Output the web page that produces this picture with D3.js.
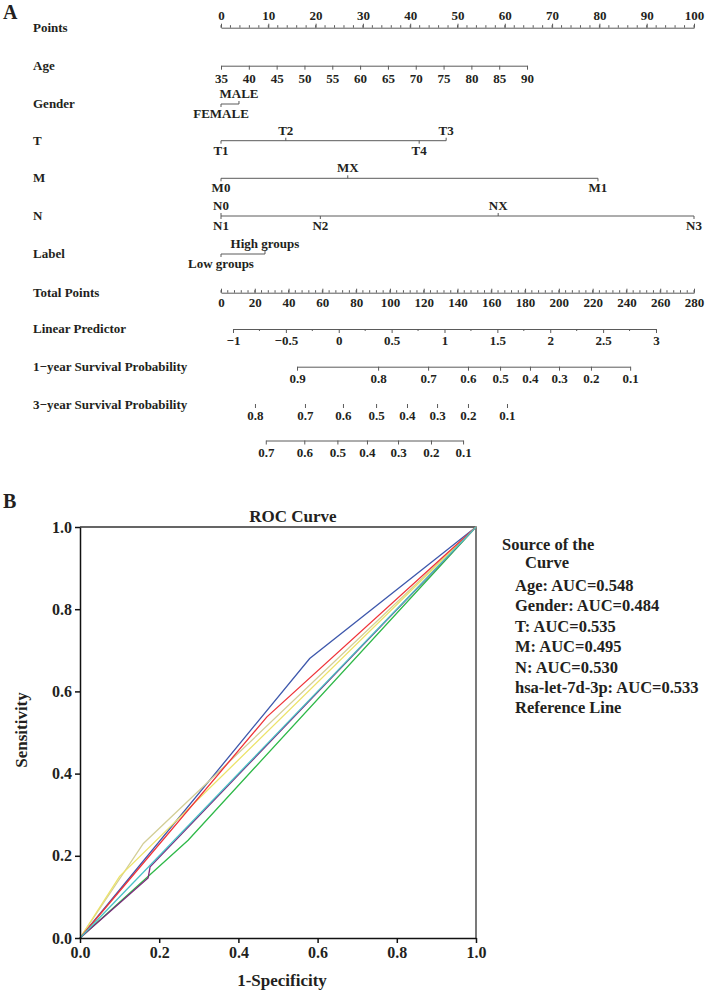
<!DOCTYPE html>
<html>
<head>
<meta charset="utf-8">
<script src="https://cdn.jsdelivr.net/npm/d3@7"></script>
<style>
  body { margin: 0; background: #fff; }
  svg text { font-family: "Liberation Serif", "Times New Roman", serif; font-weight: bold; fill: #231f20; }
</style>
</head>
<body>
<svg id="chart" width="707" height="992"></svg>
<script>
// ---- nomogram (panel A) ----
const pointTicks = [0, 10, 20, 30, 40, 50, 60, 70, 80, 90, 100];
const ageTicks = [35, 40, 45, 50, 55, 60, 65, 70, 75, 80, 85, 90];
const ageRangePoints = [0, 64.7];           // points at age 35 and age 90
const genderLevels = ["FEMALE", "MALE"];
const genderPoints = [0, 3.8];
const tLevels = ["T1", "T2", "T4", "T3"];
const tPoints = [0, 13.7, 41.9, 47.6];
const mLevels = ["M0", "MX", "M1"];
const mPoints = [0, 26.8, 79.7];
const nLevels = ["N0", "N1", "N2", "NX", "N3"];
const nPoints = [0, 0, 21, 58.6, 100];
const labelLevels = ["Low groups", "High groups"];
const labelPoints = [0, 9.3];
const totalTicks = [0, 20, 40, 60, 80, 100, 120, 140, 160, 180, 200, 220, 240, 260, 280];
const lpTicks = [-1, -0.5, 0, 0.5, 1, 1.5, 2, 2.5, 3];
const lpEnds = [-1, 3];
const lpEndsTotal = [7.1, 257.5];
const surv1Labels = ["0.9", "0.8", "0.7", "0.6", "0.5", "0.4", "0.3", "0.2", "0.1"];
const surv1Total = [45.0, 93.0, 122.6, 146.2, 165.2, 182.9, 200.1, 219.0, 242.2];
const surv3Labels = ["0.8", "0.7", "0.6", "0.5", "0.4", "0.3", "0.2", "0.1"];
const surv3Total = [20.1, 49.7, 72.2, 91.8, 110.1, 127.9, 146.2, 169.3];
const surv3bLabels = ["0.7", "0.6", "0.5", "0.4", "0.3", "0.2", "0.1"];
const surv3bTotal = [26.5, 49.3, 68.9, 86.4, 104.8, 124.3, 143.3];
const labelsAbove = ["MALE", "T2", "T3", "MX", "N0", "NX", "High groups"];

// ---- ROC (panel B) ----
const rocNames = ["Age", "Gender", "T", "M", "N", "hsa-let-7d-3p", "Reference Line"];
const rocAuc = ["0.548", "0.484", "0.535", "0.495", "0.530", "0.533", null];
const rocColors = ["#3e58ac", "#2eb848", "#d3ce97", "#7c287d", "#ece36a", "#ef3338", "#48c2c5"];
const ageFpr = [0, 0.58, 1],           ageTpr = [0, 0.68, 1];
const genderFpr = [0, 0.273, 1],       genderTpr = [0, 0.238, 1];
const tFpr = [0, 0.16, 1],             tTpr = [0, 0.23, 1];
const mFpr = [0, 0.172, 0.177, 1],     mTpr = [0, 0.146, 0.173, 1];
const nFpr = [0, 0.1, 1],              nTpr = [0, 0.15, 1];
const hsaFpr = [0, 0.472, 1],          hsaTpr = [0, 0.538, 1];
const refFpr = [0, 1],                 refTpr = [0, 1];
const rocFpr = [ageFpr, genderFpr, tFpr, mFpr, nFpr, hsaFpr, refFpr];
const rocTpr = [ageTpr, genderTpr, tTpr, mTpr, nTpr, hsaTpr, refTpr];

const svg = d3.select("#chart");
svg.append("rect").attr("width", 707).attr("height", 992).attr("fill", "#fff");

const axisColor = "#5a5a5a";
const x0 = 221, x1 = 694;
const pts = d3.scaleLinear().domain([0, 100]).range([x0, x1]);
const tot = d3.scaleLinear().domain([0, 280]).range([x0, x1]);

svg.append("text").attr("x", 3).attr("y", 19).attr("font-size", 20).text("A");

function rowLabel(txt, y) {
  svg.append("text").attr("x", 33).attr("y", y + 4).attr("font-size", 13).text(txt);
}

function styleAxis(g, size) {
  g.selectAll("path, line").attr("stroke", axisColor).attr("stroke-width", 1);
  g.selectAll("text").attr("font-size", size || 13).attr("fill", "#231f20");
  g.attr("font-family", null).attr("font-size", null);
}

function minorTicks(scale, vals, y, len) {
  svg.append("g").selectAll("line").data(vals).join("line")
    .attr("x1", d => scale(d)).attr("x2", d => scale(d))
    .attr("y1", y).attr("y2", y + len)
    .attr("stroke", axisColor).attr("stroke-width", 1);
}

// Points
rowLabel("Points", 27.7);
const gp = svg.append("g").attr("transform", "translate(0,27.7)")
  .call(d3.axisTop(pts).tickValues(pointTicks).tickSize(4).tickSizeOuter(0).tickPadding(4));
styleAxis(gp);
minorTicks(pts, d3.range(0, 101, 2), 27.7, -2.5);

// Age
rowLabel("Age", 65.7);
const ageScale = d3.scaleLinear().domain([35, 90]).range(ageRangePoints.map(pts));
const ga = svg.append("g").attr("transform", "translate(0,65.7)")
  .call(d3.axisBottom(ageScale).tickValues(ageTicks).tickSize(4).tickSizeOuter(0).tickPadding(4));
styleAxis(ga);

// categorical rows
function catRow(name, y, levels, points) {
  rowLabel(name, y);
  const xs = points.map(pts);
  svg.append("line").attr("x1", d3.min(xs)).attr("x2", d3.max(xs))
    .attr("y1", y).attr("y2", y).attr("stroke", axisColor).attr("stroke-width", 1);
  levels.forEach((lv, i) => {
    const up = labelsAbove.includes(lv);
    svg.append("line").attr("x1", xs[i]).attr("x2", xs[i])
      .attr("y1", y).attr("y2", up ? y - 3 : y + 3).attr("stroke", axisColor);
    svg.append("text").attr("x", xs[i]).attr("y", up ? y - 6 : y + 14)
      .attr("text-anchor", "middle").attr("font-size", 13).text(lv);
  });
}
catRow("Gender", 104, genderLevels, genderPoints);
catRow("T", 140.7, tLevels, tPoints);
catRow("M", 178.3, mLevels, mPoints);
catRow("N", 216, nLevels, nPoints);
catRow("Label", 254, labelLevels, labelPoints);

// Total Points
rowLabel("Total Points", 292.7);
const gt = svg.append("g").attr("transform", "translate(0,292.7)")
  .call(d3.axisBottom(tot).tickValues(totalTicks).tickSize(-4).tickSizeOuter(0).tickPadding(5));
styleAxis(gt);
minorTicks(tot, d3.range(0, 281, 4), 292.7, -2.5);

// Linear Predictor
rowLabel("Linear Predictor", 329);
const lpScale = d3.scaleLinear().domain(lpEnds).range(lpEndsTotal.map(tot));
const gl = svg.append("g").attr("transform", "translate(0,329)")
  .call(d3.axisBottom(lpScale).tickValues(lpTicks).tickSize(4).tickSizeOuter(0).tickPadding(3)
    .tickFormat(d3.format("")));
styleAxis(gl);
minorTicks(lpScale, d3.range(-0.75, 3, 0.5), 329, 2);

// survival axes
function survAxis(y, labels, totals, showLine) {
  const s = d3.scaleLinear().domain(d3.extent(totals)).range(d3.extent(totals).map(tot));
  const g = svg.append("g").attr("transform", `translate(0,${y})`)
    .call(d3.axisBottom(s).tickValues(totals).tickSize(4).tickSizeOuter(0).tickPadding(3)
      .tickFormat((d, i) => labels[i]));
  styleAxis(g);
  if (!showLine) g.select(".domain").remove();
}
rowLabel("1\u2212year Survival Probability", 366.7);
survAxis(366.7, surv1Labels, surv1Total, true);
rowLabel("3\u2212year Survival Probability", 405);
survAxis(404, surv3Labels, surv3Total, false);
survAxis(440.5, surv3bLabels, surv3bTotal, true);

// ---- panel B ----
svg.append("text").attr("x", 3).attr("y", 508).attr("font-size", 20).text("B");

const xr = d3.scaleLinear().domain([0, 1]).range([80, 476]);
const yr = d3.scaleLinear().domain([0, 1]).range([938, 527]);

svg.append("text").attr("x", 293).attr("y", 522).attr("text-anchor", "middle")
  .attr("font-size", 17).text("ROC Curve");

// frame
svg.append("path").attr("d", `M${xr(0)},${yr(1)}H${xr(1)}V${yr(0)}`)
  .attr("fill", "none").attr("stroke", "#333").attr("stroke-width", 1.3);

const line = d3.line().x(d => xr(d[0])).y(d => yr(d[1]));
rocNames.forEach((nm, i) => {
  const pts2 = rocFpr[i].map((f, j) => [f, rocTpr[i][j]]);
  svg.append("path").datum(pts2).attr("d", line)
    .attr("fill", "none").attr("stroke", rocColors[i]).attr("stroke-width", 1.3);
});

const gx = svg.append("g").attr("transform", `translate(0,${yr(0)})`)
  .call(d3.axisBottom(xr).tickValues([0, 0.2, 0.4, 0.6, 0.8, 1]).tickFormat(d3.format(".1f"))
    .tickSize(5).tickSizeOuter(0).tickPadding(4));
const gy = svg.append("g").attr("transform", `translate(${xr(0)},0)`)
  .call(d3.axisLeft(yr).tickValues([0, 0.2, 0.4, 0.6, 0.8, 1]).tickFormat(d3.format(".1f"))
    .tickSize(5).tickSizeOuter(0).tickPadding(3));
[gx, gy].forEach(g => {
  g.selectAll("path, line").attr("stroke", "#111").attr("stroke-width", 1.5);
  g.selectAll("text").attr("font-size", 16).attr("fill", "#231f20");
  g.attr("font-family", null).attr("font-size", null);
});

svg.append("text").attr("x", 282).attr("y", 986).attr("text-anchor", "middle")
  .attr("font-size", 17).text("1-Specificity");
svg.append("text").attr("transform", "translate(27,730) rotate(-90)")
  .attr("text-anchor", "middle").attr("font-size", 17).text("Sensitivity");

// legend (text only)
svg.append("text").attr("x", 502).attr("y", 550).attr("font-size", 16.5).text("Source of the");
svg.append("text").attr("x", 525).attr("y", 568).attr("font-size", 16.5).text("Curve");
rocNames.forEach((nm, i) => {
  svg.append("text").attr("x", 515).attr("y", 591 + i * 20.4).attr("font-size", 16.5)
    .text(rocAuc[i] ? `${nm}: AUC=${rocAuc[i]}` : nm);
});
</script>
</body>
</html>
